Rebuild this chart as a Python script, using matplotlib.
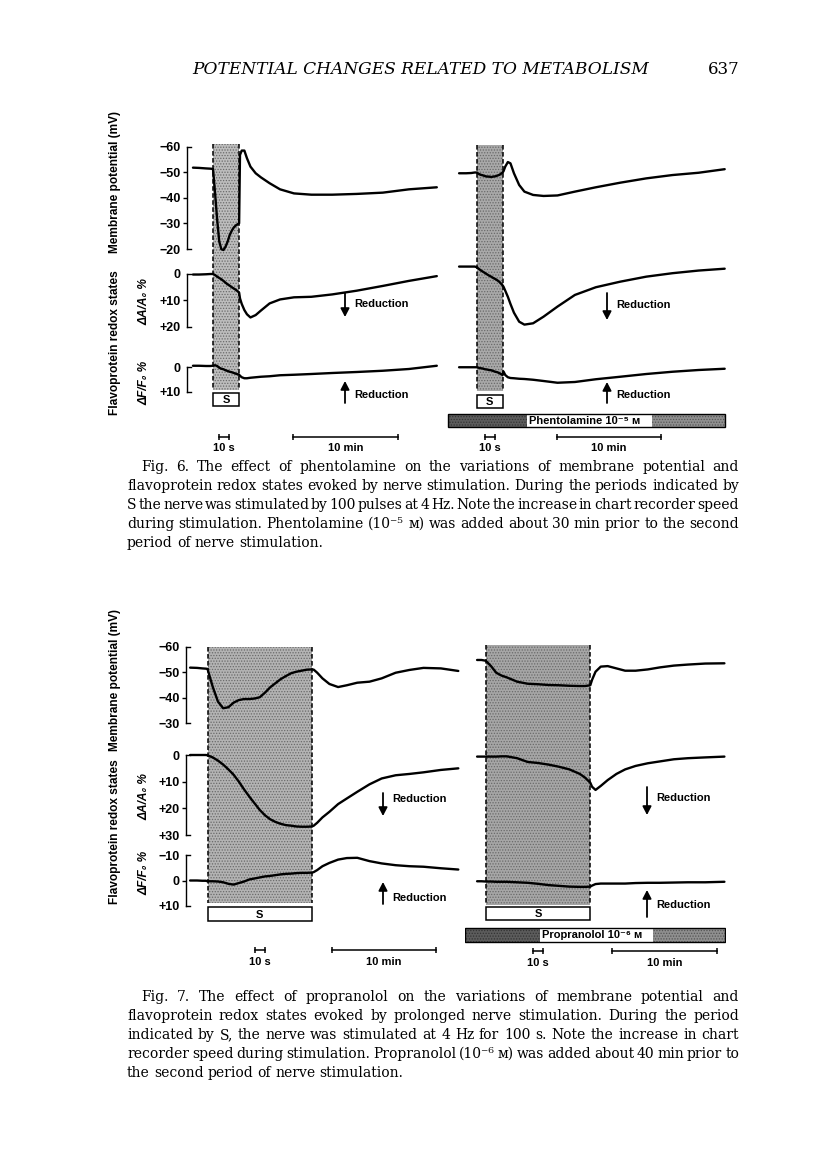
import numpy as np
import matplotlib
matplotlib.use('Agg')
import matplotlib.pyplot as plt
from matplotlib.patches import Rectangle, FancyArrowPatch

plt.rcParams['hatch.linewidth'] = 0.6

W, H = 816, 1160
SANS = ['Liberation Sans', 'DejaVu Sans']
SERIF = ['DejaVu Serif', 'DejaVu Sans']

# chart recorder speeds: the paper ran faster during stimulation
SLOW = 10.0       # mm per min
FAST = 1.0        # mm per s
PX_PER_MM = 1.045

# ---------------- data (time in s from start of stimulation) ----------------
# Fig. 6: 100 pulses at 4 Hz = 25 s
stim6 = 25
t6_ctrl = [-115, -80, -40, -15, 0, 2, 4, 6, 8, 10, 12, 14, 16, 18, 20, 22, 25,
           30, 40, 55, 70, 90, 120, 150, 200, 260, 340, 440, 560, 700, 850, 1000, 1160]
mp6_ctrl = [-51.9, -51.8, -51.6, -51.5, -51.4, -41.8, -31.4, -22.9, -19.9, -19.6, -20.9,
            -22.9, -25.5, -27.2, -28.5, -29.3, -30.1, -56.9, -58.6, -58.6, -55.6, -52.3,
            -49.7, -48.1, -45.8, -43.4, -41.8, -41.3, -41.3, -41.6, -42.1, -43.4, -44.2]
da6_ctrl = [0.2, 0.2, 0.1, 0, 0, 0.4, 1.0, 1.5, 2.0, 2.6, 3.3, 3.9, 4.4, 5.0, 5.5, 6.0, 7.0,
            9.2, 11.3, 13.6, 15.2, 16.4, 15.5, 13.8, 11.1, 9.6, 8.8, 8.6, 7.7, 6.3, 4.5, 2.6, 0.8]
df6_ctrl = [-0.5, -0.5, -0.4, -0.4, -0.5, -0.7, -0.4, 0.3, 0.7, 0.9, 1.3, 1.6, 1.9, 2.1, 2.4,
            2.7, 3.1, 3.5, 4.1, 4.5, 4.5, 4.3, 4.1, 3.9, 3.7, 3.3, 3.1, 2.8, 2.4, 2.0, 1.5, 0.8, -0.5]

t6_phen = [-100, -60, -30, -10, 0, 2, 4, 6, 8, 10, 12, 14, 16, 18, 20, 22, 25,
           30, 40, 55, 70, 90, 120, 150, 200, 260, 340, 440, 560, 700, 850, 1000, 1150, 1300]
mp6_phen = [-49.7, -49.7, -49.8, -50.0, -50.0, -49.5, -49.1, -48.9, -48.6, -48.4, -48.4,
            -48.2, -48.4, -48.5, -48.8, -49.1, -50.0, -50.5, -52.3, -54.1, -53.6, -49.7,
            -45.1, -42.5, -41.2, -40.8, -41.0, -42.5, -44.2, -46.0, -47.7, -49.0, -49.9, -51.3]
da6_phen = [-2.8, -2.8, -2.8, -2.8, -2.6, -2.0, -1.4, -0.9, -0.4, 0.1, 0.6, 1.0, 1.5, 1.9,
            2.4, 3.0, 4.3, 4.8, 6.3, 8.6, 11.3, 14.6, 18.0, 19.1, 18.6, 16.1, 12.3, 7.9, 5.0,
            2.9, 1.0, -0.3, -1.3, -2.0]
df6_phen = [0.1, 0.1, 0.1, 0.1, 0.1, 0.3, 0.5, 0.6, 0.9, 1.0, 1.2, 1.3, 1.6, 1.9, 2.1, 2.5,
            3.2, 1.8, 3.2, 4.1, 4.4, 4.5, 4.7, 4.8, 5.1, 5.6, 6.3, 6.0, 4.9, 3.9, 2.8, 1.9, 1.2, 0.7]

# Fig. 7: 4 Hz for 100 s
stim7 = 100
t7_ctrl = [-100, -60, -30, -10, 0, 5, 10, 15, 20, 25, 30, 35, 40, 45, 50, 55, 60, 65, 70, 75,
           80, 85, 90, 95, 100, 110, 130, 160, 200, 250, 300, 360, 430, 500, 580, 660, 740, 840, 940]
mp7_ctrl = [-51.8, -51.7, -51.5, -51.4, -51.3, -44.3, -38.5, -35.9, -36.3, -38.1, -39.1, -39.5,
            -39.5, -39.7, -40.2, -42.0, -44.1, -45.7, -47.3, -48.5, -49.6, -50.2, -50.6, -51.0,
            -51.1, -51.0, -49.8, -47.6, -45.4, -44.2, -44.9, -45.9, -46.3, -47.6, -49.8, -50.9,
            -51.7, -51.5, -50.5]
da7_ctrl = [0, 0, 0, 0, 0.1, 0.9, 2.1, 3.6, 5.4, 7.4, 10.0, 12.9, 15.6, 18.1, 20.6, 22.6, 24.1,
            25.1, 25.8, 26.3, 26.5, 26.8, 26.9, 26.9, 26.8, 26.5, 25.4, 23.4, 21.3, 18.4, 16.3,
            13.8, 11.0, 8.8, 7.6, 7.1, 6.5, 5.6, 5.0]
df7_ctrl = [0, 0, 0.1, 0.1, 0.3, 0.3, 0.4, 0.7, 1.3, 1.6, 1.0, 0.4, -0.4, -0.8, -1.2, -1.6,
            -1.8, -2.1, -2.4, -2.6, -2.7, -2.9, -3.0, -3.0, -3.1, -3.3, -4.1, -5.6, -6.9, -8.2,
            -8.8, -8.9, -7.6, -6.7, -6.0, -5.6, -5.4, -4.8, -4.3]

t7_prop = [-50, -25, 0, 5, 10, 15, 20, 30, 40, 50, 60, 70, 80, 90, 95, 100, 110, 130, 160, 200,
           250, 300, 360, 430, 500, 580, 660, 760, 870]
mp7_prop = [-54.8, -54.8, -54.5, -52.4, -49.8, -48.7, -48.0, -46.3, -45.5, -45.3, -45.0, -44.9,
            -44.7, -44.6, -44.6, -44.9, -47.0, -50.2, -52.2, -52.4, -51.5, -50.6, -50.6, -51.1,
            -51.9, -52.6, -53.0, -53.4, -53.5]
da7_prop = [0.6, 0.6, 0.6, 0.6, 0.6, 0.5, 0.5, 1.2, 2.6, 3.0, 3.6, 4.4, 5.4, 7.1, 8.5, 10.4,
            11.9, 13.1, 11.6, 9.4, 7.1, 5.4, 4.1, 3.1, 2.4, 1.6, 1.2, 0.9, 0.6]
df7_prop = [0.3, 0.3, 0.4, 0.4, 0.5, 0.5, 0.5, 0.7, 0.9, 1.3, 1.8, 2.1, 2.4, 2.5, 2.5, 2.4,
            2.0, 1.4, 1.2, 1.2, 1.2, 1.2, 1.0, 0.9, 0.9, 0.8, 0.7, 0.7, 0.5]

# axis ticks
mp6_ticks = [-60, -50, -40, -30, -20]
mp7_ticks = [-60, -50, -40, -30]
da6_ticks = [0, 10, 20]
da7_ticks = [0, 10, 20, 30]
df6_ticks = [0, 10]
df7_ticks = [-10, 0, 10]


def tick_text(v):
    if v < 0:
        return '\u2212%d' % -v
    return '0' if v == 0 else '+%d' % v


def chart_mm(t, stim):
    t = np.asarray(t, float)
    return np.where(t < 0, t * SLOW / 60,
                    np.where(t <= stim, t * FAST, stim * FAST + (t - stim) * SLOW / 60))


fig = plt.figure(figsize=(W / 100, H / 100), dpi=100)


def rect(x0, y0, x1, y1):
    return [x0 / W, 1 - y1 / H, (x1 - x0) / W, (y1 - y0) / H]


def ptext(x, y, s, **kw):
    return fig.text(x / W, 1 - y / H, s, **kw)


def chart_axes(onset, xlim, ytop, ybot):
    x0 = onset + xlim[0] * PX_PER_MM
    x1 = onset + xlim[1] * PX_PER_MM
    ax = fig.add_axes(rect(x0, ytop, x1, ybot))
    ax.set_xlim(xlim)
    ax.patch.set_alpha(0)
    for s in ax.spines.values():
        s.set_visible(False)
    ax.set_xticks([])
    ax.set_yticks([])
    return ax


def arrow(x, ytail, yhead):
    fig.add_artist(FancyArrowPatch((x / W, 1 - ytail / H), (x / W, 1 - yhead / H),
                                   transform=fig.transFigure, arrowstyle='-|>,head_width=2.6,head_length=5',
                                   color='k', lw=1.3, shrinkA=0, shrinkB=0))


lab_kw = dict(fontsize=8, fontweight='bold', family=SANS)


def draw_panel(p, t, traces, rows, stim, axis_on):
    ov = chart_axes(p['onset'], p['xlim'], p['top'], p['bottom'])
    ov.set_ylim(p['bottom'], p['top'])
    sw = stim * FAST
    s0, s1 = p['shade']
    ov.add_patch(Rectangle((0, s0), sw, s1 - s0, facecolor=p['shade_col'], edgecolor='#6a6a6a',
                           hatch='......', lw=0, zorder=0))
    for xv in (0, sw):
        ov.plot([xv, xv], [s0, s1], color='k', lw=1.1, ls=(0, (3, 1.6)))
    b0, b1 = p['sbox']
    ov.add_patch(Rectangle((0, b0), sw, b1 - b0, facecolor='white', edgecolor='k', lw=1.1))
    ov.text(sw / 2, (b0 + b1) / 2 + 0.5, 'S', ha='center', va='center', **lab_kw)
    x10s, x10m, ybar, ylab = p['bars']
    for x, length, lab in ((x10s, 10 * FAST, '10 s'), (x10m, 10 * SLOW, '10 min')):
        ov.plot([x, x + length], [ybar, ybar], color='k', lw=1.1)
        ov.plot([x, x + length], [ybar, ybar], ls='none', marker='|', ms=4, mew=1.1, color='k')
        ov.text(x + length / 2, ylab, lab, ha='center', va='center', **lab_kw)
    if 'drug' in p:
        d0, d1, y0, y1, l0, l1, name = p['drug']
        ov.add_patch(Rectangle((d0, y0), l0 - d0, y1 - y0, facecolor='#5c5c5c', edgecolor='#333333',
                               hatch='......', lw=0))
        ov.add_patch(Rectangle((l1, y0), d1 - l1, y1 - y0, facecolor='#8f8f8f', edgecolor='#555555',
                               hatch='......', lw=0))
        ov.add_patch(Rectangle((l0, y0 + 1), l1 - l0, y1 - y0 - 2, facecolor='white', lw=0))
        ov.add_patch(Rectangle((d0, y0), d1 - d0, y1 - y0, facecolor='none', edgecolor='k', lw=1.0))
        ov.text(l0 + 2, (y0 + y1) / 2 + 0.5, name, ha='left', va='center', **lab_kw)

    x = chart_mm(t, stim)
    for row, y in zip(rows, traces):
        ax = chart_axes(p['onset'], p['xlim'], row['top'], row['bot'])
        ax.set_ylim(row['lim'])
        ax.plot(x, y, color='k', lw=1.7, clip_on=False, solid_joinstyle='round', solid_capstyle='round')
        if axis_on:
            ax.spines['left'].set_visible(True)
            ax.spines['left'].set_linewidth(1.0)
            ax.set_yticks(row['ticks'])
            ax.set_yticklabels([tick_text(v) for v in row['ticks']])
            ax.tick_params(axis='y', length=3, width=1.0, pad=1.5, labelsize=9)
            for lab in ax.get_yticklabels():
                lab.set_fontweight('bold')
                lab.set_family(SANS)
            mt = ax.yaxis.get_major_ticks()
            mt[0].tick1line.set_visible(False)
            mt[-1].tick1line.set_visible(False)
            x0 = p['xlim'][0]
            for v in row['lim']:
                ax.plot([x0, x0 + 3.5], [v, v], color='k', lw=1.0, clip_on=False)


rows6 = [dict(top=147, bot=249, lim=(-20, -60), ticks=mp6_ticks),
         dict(top=274, bot=327, lim=(20, 0), ticks=da6_ticks),
         dict(top=367, bot=392, lim=(10, 0), ticks=df6_ticks)]
rows7 = [dict(top=646.7, bot=723.3, lim=(-30, -60), ticks=mp7_ticks),
         dict(top=755, bot=835, lim=(30, 0), ticks=da7_ticks),
         dict(top=855, bot=906, lim=(10, -10), ticks=df7_ticks)]

p6l = dict(onset=213.0, xlim=(-24.9, 216), top=140, bottom=455, shade=(144, 390),
           shade_col='#bdbdbd', sbox=(393, 406), bars=(5.7, 76.6, 437, 448))
p6r = dict(onset=476.5, xlim=(-28, 240), top=140, bottom=455, shade=(145, 391),
           shade_col='#a9a9a9', sbox=(395, 408), bars=(8.1, 77, 437, 448),
           drug=(-27.3, 237.8, 414, 427, 48.3, 168, 'Phentolamine 10\u207b\u2075 \u1d0d'))
p7l = dict(onset=207.5, xlim=(-20.6, 242), top=640, bottom=970, shade=(647, 903),
           shade_col='#b3b3b3', sbox=(907, 921), bars=(45.5, 119, 950, 962))
p7r = dict(onset=485.8, xlim=(-20, 230), top=640, bottom=970, shade=(645, 905),
           shade_col='#a6a6a6', sbox=(907, 920), bars=(45, 120.8, 951, 963),
           drug=(-19.9, 228.9, 928, 942, 52, 160, 'Propranolol 10\u207b\u2076 \u1d0d'))

draw_panel(p6l, t6_ctrl, [mp6_ctrl, da6_ctrl, df6_ctrl], rows6, stim6, True)
draw_panel(p6r, t6_phen, [mp6_phen, da6_phen, df6_phen], rows6, stim6, False)
draw_panel(p7l, t7_ctrl, [mp7_ctrl, da7_ctrl, df7_ctrl], rows7, stim7, True)
draw_panel(p7r, t7_prop, [mp7_prop, da7_prop, df7_prop], rows7, stim7, False)

# y-axis titles
ylab_kw = dict(fontsize=8.6, fontweight='bold', family=SANS, rotation=90, ha='center', va='center')
for yc_mp, yc_fl, yc_da, yc_df in ((182, 343, 302, 383), (680, 832, 797, 873)):
    ptext(115, yc_mp, 'Membrane potential (mV)', **ylab_kw)
    ptext(115, yc_fl, 'Flavoprotein redox states', **ylab_kw)
    ptext(144, yc_da, '\u0394A/A\u2080 %', style='italic', **ylab_kw)
    ptext(144, yc_df, '\u0394F/F\u2080 %', style='italic', **ylab_kw)

# reduction arrows
for x, (dt, dh, dy), (ut, uh, uy) in ((345, (293, 317, 304), (403, 381, 395)),
                                      (607, (293, 320, 305), (403, 382, 395)),
                                      (383, (793, 816, 799), (904, 882, 898)),
                                      (647, (787, 815, 798), (917, 890, 905))):
    arrow(x, dt, dh)
    arrow(x, ut, uh)
    ptext(x + 9, dy, 'Reduction', ha='left', va='center', **lab_kw)
    ptext(x + 9, uy, 'Reduction', ha='left', va='center', **lab_kw)

renderer = fig.canvas.get_renderer()

# running head
head = ptext(192, 69, 'POTENTIAL CHANGES RELATED TO METABOLISM', ha='left', va='center',
             family=SERIF, style='italic', fontsize=12)
wd = head.get_window_extent(renderer).width
head.set_fontsize(12 * 456 / wd)
ptext(740, 69, '637', ha='right', va='center', family=SERIF, fontsize=12)

# captions
cap6 = ['Fig. 6. The effect of phentolamine on the variations of membrane potential and',
        'flavoprotein redox states evoked by nerve stimulation. During the periods indicated by',
        'S the nerve was stimulated by 100 pulses at 4 Hz. Note the increase in chart recorder speed',
        'during stimulation. Phentolamine (10\u207b\u2075 \u1d0d) was added about 30 min prior to the second',
        'period of nerve stimulation.']
cap7 = ['Fig. 7. The effect of propranolol on the variations of membrane potential and',
        'flavoprotein redox states evoked by prolonged nerve stimulation. During the period',
        'indicated by S, the nerve was stimulated at 4 Hz for 100 s. Note the increase in chart',
        'recorder speed during stimulation. Propranolol (10\u207b\u2076 \u1d0d) was added about 40 min prior to',
        'the second period of nerve stimulation.']

LEFT, RIGHT = 127, 739
MIN_GAP_EM = 0.13


def word_widths(line, fs):
    arts = [ptext(0, 0, w_, family=SERIF, fontsize=fs) for w_ in line.split(' ')]
    ws = [a.get_window_extent(renderer).width for a in arts]
    for a in arts:
        a.remove()
    return ws


# largest font size that lets every justified line keep a small word gap
cap_fs = 20.0
for cap in (cap6, cap7):
    for i, line in enumerate(cap[:-1]):
        ws = word_widths(line, 10)
        avail = RIGHT - LEFT - (14 if i == 0 else 0)
        fs = avail / (sum(ws) / 10 + (len(ws) - 1) * MIN_GAP_EM * 100 / 72)
        cap_fs = min(cap_fs, fs)
space_px = cap_fs * 100 / 72 * 0.3


def justify(line, y, indent, last):
    words = line.split(' ')
    arts = [ptext(0, y, w_, ha='left', va='baseline', family=SERIF, fontsize=cap_fs) for w_ in words]
    widths = [a.get_window_extent(renderer).width for a in arts]
    x0 = LEFT + indent
    gap = space_px if last else (RIGHT - x0 - sum(widths)) / (len(words) - 1)
    x = x0
    for a, w_ in zip(arts, widths):
        a.set_x(x / W)
        x += w_ + gap


for cap, y_first in ((cap6, 471), (cap7, 1001)):
    for i, line in enumerate(cap):
        justify(line, y_first + 19 * i, 14 if i == 0 else 0, i == len(cap) - 1)

fig.savefig('out.png', dpi=100)
